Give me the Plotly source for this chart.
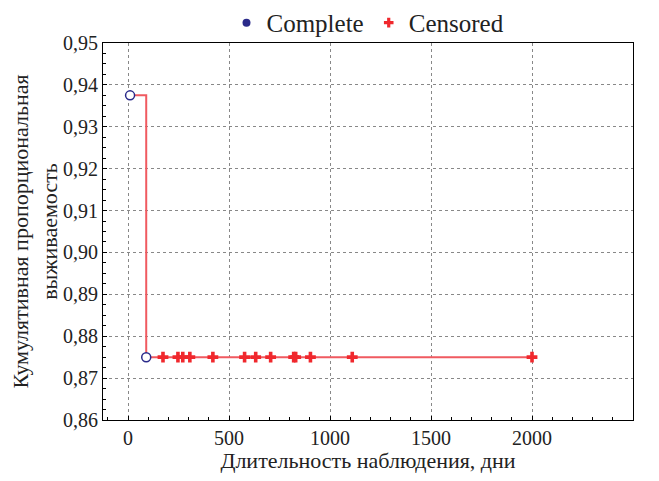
import plotly.graph_objects as go

# Data
complete_days = [10, 90]
complete_surv = [0.9375, 0.875]
censored_days = [173, 247, 271, 306, 420, 577, 632, 706, 820, 830, 903, 1110, 2000]
censored_surv = [0.875] * len(censored_days)
step_days = [10, 90] + censored_days
step_surv = [0.9375, 0.875] + censored_surv

x_ticks = [0, 500, 1000, 1500, 2000, 2500]
y_ticks = [0.86, 0.87, 0.88, 0.89, 0.90, 0.91, 0.92, 0.93, 0.94, 0.95]

font = "Liberation Serif, Times New Roman, serif"
red = "#f0282d"
blue = "#2a2a8a"

fig = go.Figure()
fig.add_trace(go.Scatter(x=step_days, y=step_surv, mode="lines", line=dict(color="#f05a60", width=2, shape="hv"),
                         showlegend=False, hoverinfo="skip"))
fig.add_trace(go.Scatter(x=censored_days, y=censored_surv, mode="markers", name="Censored",
                         marker=dict(symbol="cross", size=9, color=red), showlegend=False))
fig.add_trace(go.Scatter(x=complete_days, y=complete_surv, mode="markers", name="Complete",
                         marker=dict(symbol="circle", size=9, color="white", line=dict(color=blue, width=1.5)),
                         showlegend=False))
# legend entries
fig.add_trace(go.Scatter(x=[None], y=[None], mode="markers", name="Complete",
                         marker=dict(symbol="circle", size=8, color=blue)))
fig.add_trace(go.Scatter(x=[None], y=[None], mode="markers", name="Censored",
                         marker=dict(symbol="cross", size=8, color=red)))

axis_common = dict(showline=True, linecolor="black", linewidth=1, mirror=True,
                   showgrid=True, gridcolor="#888888", griddash="dot", gridwidth=1,
                   ticks="inside", ticklen=4, tickcolor="black", automargin=False,
                   zeroline=False)

fig.update_xaxes(range=[-124, 2500], tickvals=x_ticks, ticktext=[str(v) for v in x_ticks],
                 tickfont=dict(family=font, size=20, color="#222"),
                 minor=dict(ticks="inside", dtick=100, tick0=0, ticklen=3, tickcolor="black", showgrid=False),
                 title=dict(text="Длительность наблюдения, дни", font=dict(family=font, size=22, color="#222"), standoff=9),
                 **axis_common)
fig.update_yaxes(range=[0.86, 0.95], tickvals=y_ticks, ticktext=[f"{v:.2f}".replace(".", ",") for v in y_ticks],
                 tickfont=dict(family=font, size=20, color="#222"),
                 minor=dict(ticks="inside", dtick=0.0025, tick0=0.86, ticklen=3, tickcolor="black", showgrid=False),
                 title=dict(text="Кумулятивная пропорциональная<br>выживаемость", font=dict(family=font, size=22, color="#222"), standoff=8),
                 **axis_common)

fig.update_layout(
    template="none",
    width=643, height=465,
    margin=dict(l=95, r=18, t=35, b=53, autoexpand=False),
    plot_bgcolor="white", paper_bgcolor="white",
    font=dict(family=font, size=20, color="#222"),
    legend=dict(orientation="h", x=0.5, xanchor="center", xref="paper", y=0.968, yanchor="middle", yref="container",
                font=dict(family=font, size=25, color="#222"), itemwidth=30, tracegroupgap=0,
                bgcolor="rgba(0,0,0,0)"),
)

fig.write_html("out.html")
